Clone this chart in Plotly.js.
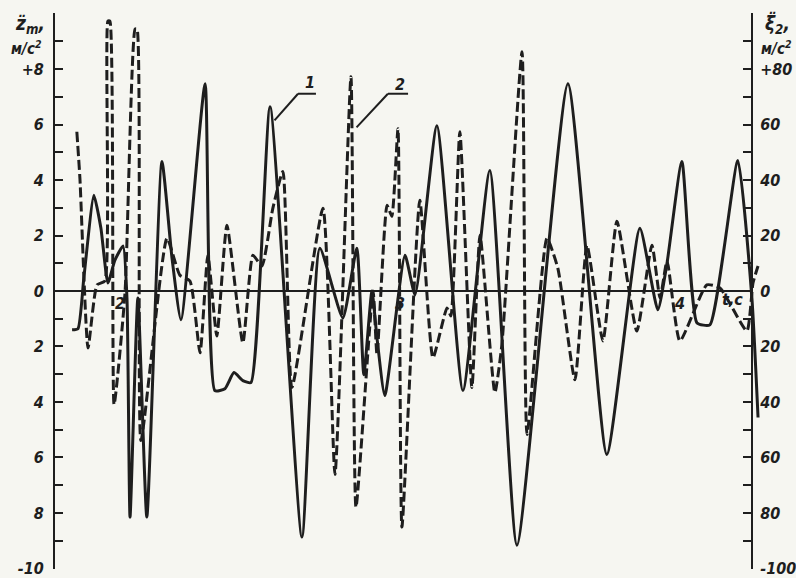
<!DOCTYPE html>
<html>
<head>
<meta charset="utf-8">
<script src="https://cdn.plot.ly/plotly-3.0.1.min.js"></script>
<style>html,body{margin:0;padding:0;background:#f6f6f1;}</style>
</head>
<body>
<div id="chart" style="width:796px;height:578px;"></div>
<script>
// Curve 1 (solid): z̈m, m/s^2 (left axis)
const tSolid = [1.829,1.850,1.871,1.907,1.932,1.957,1.982,2.011,2.025,2.036,2.064,2.096,2.150,2.186,2.218,2.304,2.339,2.375,2.407,2.439,2.468,2.536,2.650,2.714,2.796,2.846,2.871,2.900,2.918,2.946,3.018,3.054,3.132,3.225,3.321,3.418,3.600,3.739,3.857,3.921,3.954,4.007,4.061,4.107,4.207,4.257,4.279];
const zSolid = [-1.40,-1.36,0.47,3.45,2.26,0.29,1.11,1.62,-0.25,-8.15,-0.25,-8.15,4.67,1.18,-1.04,7.47,-3.59,-3.52,-2.94,-3.23,-3.30,6.64,-8.87,1.54,-0.97,1.54,-3.02,0.0,-1.69,-3.77,1.29,-0.14,5.96,-3.59,4.34,-9.16,7.47,-5.89,2.26,-0.68,1.01,4.67,-1.15,-1.22,4.70,-0.25,-4.56];
// Curve 2 (dashed): ξ̈2, m/s^2 (right axis)
const tDash = [1.846,1.857,1.886,1.918,1.946,1.957,1.964,1.979,2.018,2.054,2.061,2.075,2.168,2.214,2.250,2.286,2.314,2.346,2.382,2.439,2.475,2.507,2.546,2.582,2.614,2.725,2.768,2.825,2.843,2.904,2.918,2.954,2.971,2.993,3.007,3.071,3.118,3.168,3.182,3.214,3.257,3.286,3.339,3.364,3.436,3.454,3.525,3.564,3.625,3.668,3.725,3.775,3.846,3.900,3.929,3.954,4.000,4.096,4.143,4.239,4.261,4.279];
const xiDash = [57.4,40.6,-20.5,2.2,3.6,97.3,97.3,-40.9,-0.7,94.4,94.4,-53.9,19.0,5.7,3.6,-22.3,12.9,-16.2,23.7,-18.7,12.9,9.0,29.8,43.1,-34.8,29.8,-66.1,77.2,-77.9,0.0,-23.0,30.9,26.9,58.5,-85.1,32.7,-24.1,-6.1,-9.0,57.4,-34.8,20.1,-36.6,-19.4,86.2,-51.7,19.0,8.2,-32.0,16.5,-18.0,25.1,-14.4,16.5,-2.5,10.8,-18.0,2.2,1.1,-14.4,2.9,9.0];

const leftTickVals = [-10,-8,-6,-4,-2,0,2,4,6,8];
const leftTickText = ['-10','8','6','4','2','0','2','4','6','+8'];
const rightTickVals = [-100,-80,-60,-40,-20,0,20,40,60,80];
const rightTickText = ['-100','80','60','40','20','0','20','40','60','+80'];
const timeTicks = [2,3,4];

const ink = '#1e1e1e';
const fam = 'Liberation Sans Narrow, DejaVu Sans Condensed, Liberation Sans, sans-serif';
const tf = {family: fam, size: 16, color: ink, style: 'italic', weight: 'bold'};
const uf = {family: fam, size: 15, color: ink, style: 'italic', weight: 'bold'};
const bigf = {family: fam, size: 19, color: ink, style: 'italic', weight: 'bold'};

const traces = [
  {x: tSolid, y: zSolid, mode: 'lines', line: {color: ink, width: 3, shape: 'spline', smoothing: 0.5}, yaxis: 'y', hoverinfo: 'skip'},
  {x: tDash, y: xiDash, mode: 'lines', line: {color: ink, width: 3, dash: '10px,4px', shape: 'spline', smoothing: 0.5}, yaxis: 'y2', hoverinfo: 'skip'}
];

function pa(x, y, text, font) {
  return {x: x, y: y, xref: 'paper', yref: 'paper', xanchor: 'center', yanchor: 'middle', text: text, showarrow: false, font: font};
}
const annotations = [
  pa(-0.036, 0.980, 'z\u0308<sub>m</sub>,', bigf),
  pa(-0.040, 0.937, 'м/с<sup>2</sup>', uf),
  pa(1.025, 0.980, 'ξ\u0308<sub>2</sub>,', bigf),
  pa(1.024, 0.937, 'м/с<sup>2</sup>', uf),
  {x: 4.189, y: -0.29, xref: 'x', yref: 'y', text: 't,c', showarrow: false, font: tf},
  {x: 2.679, y: 7.5, xref: 'x', yref: 'y', text: '1', showarrow: false, font: tf},
  {x: 3.0, y: 7.45, xref: 'x', yref: 'y', text: '2', showarrow: false, font: tf}
];
timeTicks.forEach(function (t) {
  annotations.push({x: t, y: -0.45, xref: 'x', yref: 'y', text: String(t), showarrow: false, font: tf});
});

const shapes = [
  {type: 'line', xref: 'x', yref: 'y', x0: 1.768, x1: 4.257, y0: 0, y1: 0, line: {color: ink, width: 2}},
  {type: 'line', xref: 'x', yref: 'y', x0: 2.636, x1: 2.700, y0: 7.11, y1: 7.11, line: {color: ink, width: 2}},
  {type: 'line', xref: 'x', yref: 'y', x0: 2.636, x1: 2.552, y0: 7.11, y1: 6.15, line: {color: ink, width: 2}},
  {type: 'line', xref: 'x', yref: 'y', x0: 2.957, x1: 3.029, y0: 7.11, y1: 7.11, line: {color: ink, width: 2}},
  {type: 'line', xref: 'x', yref: 'y', x0: 2.957, x1: 2.845, y0: 7.11, y1: 5.9, line: {color: ink, width: 2}}
];

const minorL = {tick0: 0, dtick: 1, ticks: 'inside', ticklen: 8, tickwidth: 2, tickcolor: ink, showgrid: false};
const minorR = {tick0: 0, dtick: 10, ticks: 'inside', ticklen: 8, tickwidth: 2, tickcolor: ink, showgrid: false};

const layout = {
  width: 796, height: 578,
  margin: {l: 55, r: 36, t: 13, b: 9},
  paper_bgcolor: '#f6f6f1', plot_bgcolor: '#f6f6f1',
  showlegend: false,
  xaxis: {range: [1.768, 4.286], showgrid: false, zeroline: false, showline: false, showticklabels: false, ticks: '', fixedrange: true},
  yaxis: {range: [-10.02, 10.02], showgrid: false, zeroline: false, showline: true, linecolor: ink, linewidth: 2,
          tickmode: 'array', tickvals: leftTickVals, ticktext: leftTickText, ticks: 'inside', ticklen: 8, tickwidth: 2, tickcolor: ink,
          tickfont: tf, ticklabelstandoff: 6, ticklabeloverflow: 'allow', minor: minorL},
  yaxis2: {range: [-100.2, 100.2], overlaying: 'y', side: 'right', anchor: 'free', position: 0.9887,
           showgrid: false, zeroline: false, showline: true, linecolor: ink, linewidth: 2,
           tickmode: 'array', tickvals: rightTickVals, ticktext: rightTickText, ticks: 'inside', ticklen: 8, tickwidth: 2, tickcolor: ink,
           tickfont: tf, ticklabelstandoff: 4, ticklabeloverflow: 'allow', minor: minorR},
  annotations: annotations,
  shapes: shapes
};

Plotly.newPlot('chart', traces, layout, {displayModeBar: false, staticPlot: true});
</script>
</body>
</html>
